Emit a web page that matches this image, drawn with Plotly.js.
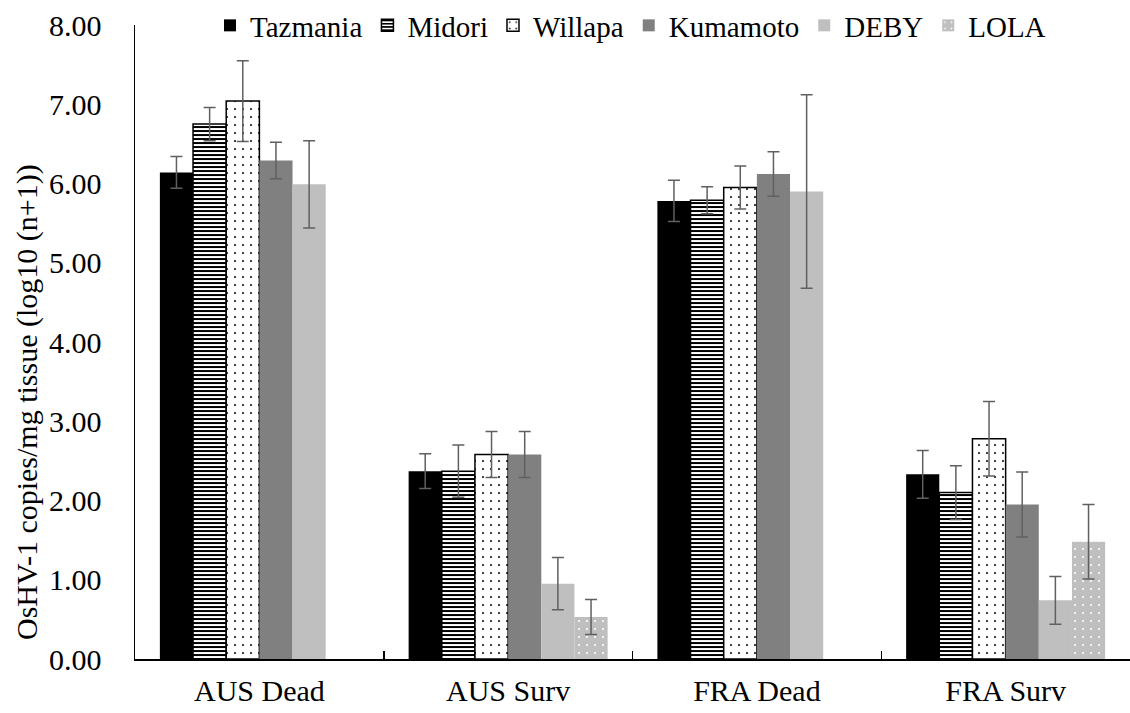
<!DOCTYPE html>
<html>
<head>
<meta charset="utf-8">
<script src="https://cdn.plot.ly/plotly-3.0.1.min.js"></script>
<style>html,body{margin:0;padding:0;background:#fff;}#chart{width:1130px;height:713px;}</style>
</head>
<body>
<div id="chart"></div>
<script>
const categories = ["AUS Dead", "AUS Surv", "FRA Dead", "FRA Surv"];
const seriesNames = ["Tazmania", "Midori", "Willapa", "Kumamoto", "DEBY", "LOLA"];
const tazmania = [6.14, 2.37, 5.78, 2.33];
const tazmaniaErr = [0.20, 0.22, 0.26, 0.30];
const midori = [6.75, 2.37, 5.79, 2.10];
const midoriErr = [0.21, 0.33, 0.17, 0.34];
const willapa = [7.04, 2.58, 5.95, 2.78];
const willapaErr = [0.51, 0.29, 0.27, 0.47];
const kumamoto = [6.29, 2.58, 6.12, 1.95];
const kumamotoErr = [0.23, 0.29, 0.28, 0.41];
const deby = [5.99, 0.95, 5.90, 0.74];
const debyErr = [0.55, 0.33, 1.22, 0.30];
const lola = [null, 0.53, null, 1.48];
const lolaErr = [null, 0.22, null, 0.47];
const yTicks = [0, 1, 2, 3, 4, 5, 6, 7, 8];

const values = [tazmania, midori, willapa, kumamoto, deby, lola];
const errs = [tazmaniaErr, midoriErr, willapaErr, kumamotoErr, debyErr, lolaErr];
const markers = [
  {color: "#000000", line: {width: 0}},
  {color: "#ffffff", line: {width: 1.5, color: "#000000"}, pattern: {shape: "-", fgcolor: "#000000", bgcolor: "#ffffff", size: 4, solidity: 0.5}},
  {color: "#ffffff", line: {width: 1.5, color: "#000000"}, pattern: {shape: ".", fgcolor: "#000000", bgcolor: "#ffffff", size: 8, solidity: 0.05}},
  {color: "#808080", line: {width: 0}},
  {color: "#bfbfbf", line: {width: 0}},
  {color: "#bfbfbf", line: {width: 0}, pattern: {shape: ".", fgcolor: "#ffffff", bgcolor: "#bfbfbf", size: 8, solidity: 0.06}}
];

const data = seriesNames.map((name, i) => ({
  type: "bar",
  name: name,
  x: categories,
  y: values[i],
  marker: markers[i],
  error_y: {type: "data", array: errs[i], visible: true, color: "#606060", thickness: 1.5, width: 6},
  hoverinfo: "y+name"
}));

const font = "'Liberation Serif', 'Times New Roman', serif";
const layout = {
  width: 1130, height: 713,
  margin: {l: 135, r: 0, t: 0, b: 54},
  paper_bgcolor: "#ffffff", plot_bgcolor: "#ffffff",
  font: {family: font, size: 30, color: "#000000"},
  barmode: "group", bargap: 0.2, bargroupgap: 0,
  showlegend: true,
  legend: {orientation: "h", x: 0.498, xanchor: "center", y: 1, yanchor: "top", xref: "paper", yref: "paper",
           font: {family: font, size: 29, color: "#000000"}, itemwidth: 30, traceorder: "normal", bgcolor: "rgba(0,0,0,0)"},
  xaxis: {
    type: "category", showline: true, linecolor: "#000000", linewidth: 1.5,
    ticks: "inside", ticklen: 8, tickwidth: 1.5, tickcolor: "#000000", tickson: "boundaries",
    tickfont: {family: font, size: 30, color: "#000000"}, ticklabelstandoff: 4, showgrid: false, zeroline: false, fixedrange: true
  },
  yaxis: {
    domain: [0, 0.962],
    range: [0, 8], tickvals: yTicks, tickformat: ".2f", showline: true, linecolor: "#000000", linewidth: 1.5,
    ticks: "", showgrid: false, zeroline: false, tickfont: {family: font, size: 30, color: "#000000"}, ticklabelstandoff: 26, fixedrange: true
  },
  annotations: [{
    text: "OsHV-1 copies/mg tissue (log10 (n+1))", textangle: -90, xref: "paper", yref: "y domain",
    x: 0, y: 0.5, xanchor: "center", yanchor: "middle", xshift: -108, yshift: -60, showarrow: false,
    font: {family: font, size: 30, color: "#000000"}
  }]
};

Plotly.newPlot("chart", data, layout, {displayModeBar: false, staticPlot: true});
</script>
</body>
</html>
